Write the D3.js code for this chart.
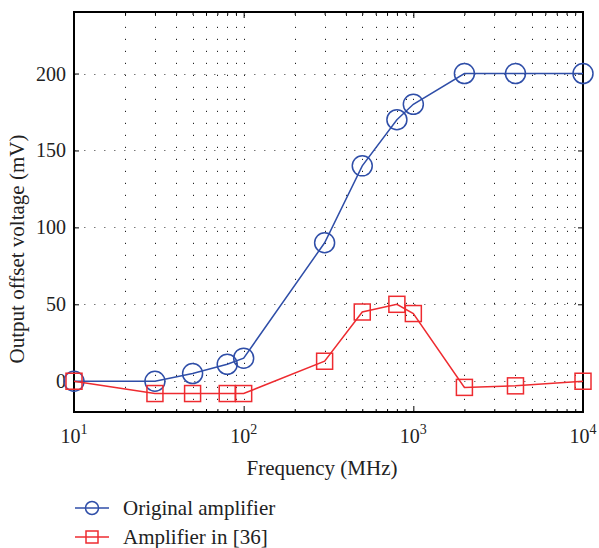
<!DOCTYPE html>
<html>
<head>
<meta charset="utf-8">
<script src="https://cdn.jsdelivr.net/npm/d3@7"></script>
<style>
  body { margin: 0; background: #fff; }
</style>
</head>
<body>
<div id="chart"></div>
<script>
// frequency points (MHz)
const freqs = [10, 30, 50, 80, 100, 300, 500, 800, 1000, 2000, 4000, 10000];
const originalOffset = [0, 0, 5, 11, 15, 90, 140, 170, 180, 200, 200, 200];
const amp36Offset = [0, -8, -8, -8, -8, 13, 45, 50, 44, -4, -3, 0];
const yTicks = [0, 50, 100, 150, 200];
const xMajor = [10, 100, 1000, 10000];
const seriesNames = ["Original amplifier", "Amplifier in [36]"];

const width = 599;
const height = 548;
const margin = { top: 12, right: 16, bottom: 136, left: 74 };
const blue = "#2f4ea8";
const red = "#ee2b30";
const serif = "'Liberation Serif', 'Times New Roman', serif";
const fs = 20;
const fsTitle = 21;

const svg = d3.select("#chart").append("svg")
  .attr("width", width)
  .attr("height", height)
  .attr("font-family", serif)
  .style("display", "block");

const x = d3.scaleLog().domain([10, 10000]).range([margin.left, width - margin.right]);
const y = d3.scaleLinear().domain([-20, 240]).range([height - margin.bottom, margin.top]);

// minor x ticks inside each decade
const xMinor = [];
[10, 100, 1000].forEach((d) => {
  for (let k = 2; k <= 9; k++) xMinor.push(d * k);
});

// grid: dotted, vertical at every x tick, horizontal at major y ticks
const grid = svg.append("g").attr("stroke", "#222").attr("stroke-width", 1);
grid.selectAll("line.vgrid")
  .data(xMinor.concat([100, 1000]))
  .join("line")
  .attr("x1", (d) => Math.round(x(d)) + 0.5)
  .attr("x2", (d) => Math.round(x(d)) + 0.5)
  .attr("y1", y(-20))
  .attr("y2", y(240))
  .attr("stroke-dasharray", "1.2 10.8");
grid.selectAll("line.hgrid")
  .data(yTicks)
  .join("line")
  .attr("x1", x(10))
  .attr("x2", x(10000))
  .attr("y1", (d) => Math.round(y(d)) + 0.5)
  .attr("y2", (d) => Math.round(y(d)) + 0.5)
  .attr("stroke", "#777")
  .attr("stroke-dasharray", "1.5 8.5");

// axes with inward ticks
const xAxisBottom = d3.axisBottom(x).tickValues(xMajor).tickSize(-6).tickFormat("");
const xAxisMinorB = d3.axisBottom(x).tickValues(xMinor).tickSize(-3).tickFormat("");
const xAxisTop = d3.axisTop(x).tickValues(xMajor).tickSize(-6).tickFormat("");
const xAxisMinorT = d3.axisTop(x).tickValues(xMinor).tickSize(-3).tickFormat("");
const yAxisLeft = d3.axisLeft(y).tickValues(yTicks).tickSize(-5).tickFormat("");
const yAxisRight = d3.axisRight(y).tickValues(yTicks).tickSize(-5).tickFormat("");

const bottom = height - margin.bottom;
const right = width - margin.right;
[
  [xAxisBottom, `translate(0,${bottom})`],
  [xAxisMinorB, `translate(0,${bottom})`],
  [xAxisTop, `translate(0,${margin.top})`],
  [xAxisMinorT, `translate(0,${margin.top})`],
  [yAxisLeft, `translate(${margin.left},0)`],
  [yAxisRight, `translate(${right},0)`]
].forEach(([axis, tr]) => {
  const g = svg.append("g").attr("transform", tr).call(axis);
  g.select(".domain").remove();
  g.selectAll(".tick line").attr("stroke", "#000").attr("stroke-width", 1);
});

// box
svg.append("rect")
  .attr("x", margin.left)
  .attr("y", margin.top)
  .attr("width", right - margin.left)
  .attr("height", bottom - margin.top)
  .attr("fill", "none")
  .attr("stroke", "#000")
  .attr("stroke-width", 2);

// tick labels
svg.append("g")
  .selectAll("text")
  .data(yTicks)
  .join("text")
  .attr("x", margin.left - 8)
  .attr("y", (d) => y(d) + 7)
  .attr("text-anchor", "end")
  .attr("font-size", fs)
  .attr("fill", "#222")
  .text((d) => d);

const xLab = svg.append("g")
  .selectAll("text")
  .data(xMajor)
  .join("text")
  .attr("x", (d) => x(d))
  .attr("y", bottom + 31)
  .attr("text-anchor", "middle")
  .attr("font-size", fs)
  .attr("fill", "#222");
xLab.append("tspan").text("10");
xLab.append("tspan")
  .attr("font-size", 14)
  .attr("dy", -9)
  .text((d) => Math.round(Math.log10(d)));

// axis titles
svg.append("text")
  .attr("x", 322)
  .attr("y", 475)
  .attr("text-anchor", "middle")
  .attr("font-size", fsTitle)
  .attr("fill", "#222")
  .text("Frequency (MHz)");

svg.append("text")
  .attr("transform", "translate(24,249) rotate(-90)")
  .attr("text-anchor", "middle")
  .attr("font-size", fsTitle)
  .attr("fill", "#222")
  .text("Output offset voltage (mV)");

// series
const line = d3.line()
  .x((d) => x(d[0]))
  .y((d) => y(d[1]));

const blueData = d3.zip(freqs, originalOffset);
const redData = d3.zip(freqs, amp36Offset);

svg.append("path")
  .datum(blueData)
  .attr("d", line)
  .attr("fill", "none")
  .attr("stroke", blue)
  .attr("stroke-width", 1.5);

svg.append("g")
  .selectAll("circle")
  .data(blueData)
  .join("circle")
  .attr("cx", (d) => x(d[0]))
  .attr("cy", (d) => y(d[1]))
  .attr("r", 10)
  .attr("fill", "none")
  .attr("stroke", blue)
  .attr("stroke-width", 1.5);

svg.append("path")
  .datum(redData)
  .attr("d", line)
  .attr("fill", "none")
  .attr("stroke", red)
  .attr("stroke-width", 1.5);

const sq = 16;
svg.append("g")
  .selectAll("rect")
  .data(redData)
  .join("rect")
  .attr("x", (d) => x(d[0]) - sq / 2)
  .attr("y", (d) => y(d[1]) - sq / 2)
  .attr("width", sq)
  .attr("height", sq)
  .attr("fill", "none")
  .attr("stroke", red)
  .attr("stroke-width", 1.5);

// legend
const legend = svg.append("g");
const rows = [
  { name: seriesNames[0], color: blue, shape: "circle", cy: 508 },
  { name: seriesNames[1], color: red, shape: "square", cy: 537 }
];
rows.forEach((r) => {
  legend.append("line")
    .attr("x1", 75).attr("x2", 109)
    .attr("y1", r.cy).attr("y2", r.cy)
    .attr("stroke", r.color)
    .attr("stroke-width", 1.5);
  if (r.shape === "circle") {
    legend.append("circle")
      .attr("cx", 92).attr("cy", r.cy).attr("r", 6.5)
      .attr("fill", "none").attr("stroke", r.color).attr("stroke-width", 1.5);
  } else {
    legend.append("rect")
      .attr("x", 86).attr("y", r.cy - 6).attr("width", 12).attr("height", 12)
      .attr("fill", "none").attr("stroke", r.color).attr("stroke-width", 1.5);
  }
  legend.append("text")
    .attr("x", 123)
    .attr("y", r.cy + 7)
    .attr("font-size", fsTitle)
    .attr("fill", "#222")
    .text(r.name);
});
</script>
</body>
</html>
